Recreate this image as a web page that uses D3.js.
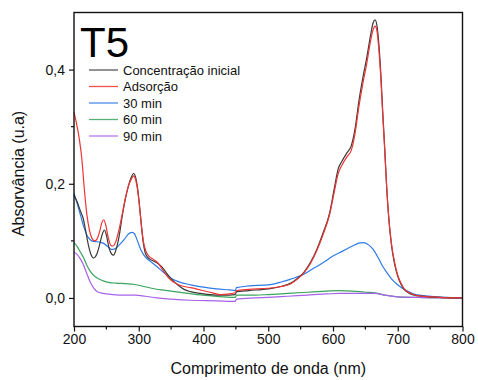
<!DOCTYPE html>
<html>
<head>
<meta charset="utf-8">
<script src="https://cdn.jsdelivr.net/npm/d3@7"></script>
<style>
  html, body { margin: 0; padding: 0; background: #fff; }
  svg { display: block; font-family: "Liberation Sans", Arial, sans-serif; }
</style>
</head>
<body>
<svg id="chart" width="478" height="380"></svg>
<script>
// UV-Vis absorbance spectra, sample T5: [wavelength (nm), absorbance]
const inicial = [
  [200,0.180],[205,0.168],[210,0.152],[214,0.140],[218,0.118],[222,0.094],[226,0.077],[230,0.070],[235,0.076],
  [240,0.095],[244,0.113],[247,0.119],[250,0.110],[254,0.088],[258,0.077],[261,0.075],[265,0.085],[270,0.110],
  [274,0.140],[279,0.172],[284,0.196],[288,0.210],[292,0.218],[295,0.212],[298,0.194],[301,0.164],[304,0.128],
  [307,0.097],[311,0.076],[316,0.069],[322,0.065],[330,0.060],[336,0.054],[342,0.045],[350,0.034],[360,0.023],
  [370,0.015],[380,0.011],[395,0.008],[410,0.006],[430,0.005],[449,0.006],[451,0.011],[470,0.013],[500,0.016],
  [520,0.020],[535,0.026],[545,0.034],[555,0.045],[565,0.062],[575,0.085],[585,0.115],[595,0.150],[602,0.192],
  [608,0.226],[614,0.240],[622,0.255],[628,0.266],[634,0.296],[640,0.345],[646,0.385],[652,0.420],[658,0.460],
  [662,0.482],[665,0.487],[668,0.476],[671,0.442],[674,0.390],[677,0.322],[680,0.260],[683,0.192],[686,0.142],
  [690,0.095],[695,0.060],[700,0.038],[705,0.024],[710,0.015],[718,0.008],[730,0.004],[750,0.002],[800,0.000]
];
const adsorcao = [
  [200,0.325],[204,0.305],[208,0.280],[212,0.245],[216,0.190],[220,0.145],[224,0.118],[228,0.104],[232,0.100],
  [236,0.104],[240,0.118],[243,0.132],[246,0.137],[249,0.128],[253,0.105],[257,0.092],[260,0.091],[265,0.100],
  [270,0.122],[275,0.150],[280,0.178],[284,0.196],[288,0.207],[292,0.214],[295,0.208],[298,0.191],[301,0.162],
  [304,0.128],[307,0.100],[311,0.082],[316,0.073],[322,0.068],[330,0.061],[336,0.051],[342,0.041],[350,0.031],
  [360,0.024],[370,0.020],[380,0.018],[395,0.014],[410,0.010],[426,0.006],[440,0.007],[449,0.009],[451,0.013],
  [470,0.015],[500,0.017],[520,0.020],[535,0.025],[545,0.033],[555,0.044],[565,0.060],[575,0.083],[585,0.112],
  [595,0.147],[602,0.186],[608,0.218],[614,0.233],[622,0.248],[628,0.258],[634,0.288],[640,0.335],[646,0.375],
  [652,0.410],[658,0.450],[662,0.470],[665,0.476],[668,0.467],[671,0.432],[674,0.382],[677,0.317],[680,0.256],
  [683,0.192],[686,0.142],[690,0.098],[695,0.063],[700,0.040],[705,0.026],[710,0.016],[718,0.009],[730,0.004],
  [750,0.002],[800,0.000]
];
const min30 = [
  [200,0.183],[205,0.165],[210,0.145],[215,0.125],[220,0.110],[225,0.102],[230,0.099],[238,0.098],[245,0.096],
  [252,0.090],[258,0.085],[263,0.086],[270,0.093],[278,0.103],[284,0.112],[289,0.115],[293,0.113],[298,0.100],
  [303,0.085],[310,0.072],[318,0.064],[328,0.055],[338,0.045],[348,0.036],[360,0.029],[380,0.023],[400,0.019],
  [420,0.016],[440,0.014],[449,0.013],[451,0.018],[470,0.021],[500,0.023],[520,0.028],[535,0.033],[552,0.040],
  [570,0.052],[585,0.062],[598,0.072],[615,0.082],[630,0.091],[640,0.096],[647,0.097],[655,0.093],[662,0.085],
  [670,0.070],[677,0.055],[684,0.043],[690,0.034],[698,0.025],[706,0.018],[715,0.012],[725,0.007],[740,0.004],
  [760,0.002],[800,0.000]
];
const min60 = [
  [200,0.097],[205,0.090],[210,0.080],[215,0.070],[220,0.057],[225,0.047],[230,0.040],[237,0.034],[245,0.030],
  [255,0.027],[265,0.026],[280,0.025],[292,0.024],[305,0.021],[320,0.017],[335,0.014],[350,0.012],[370,0.009],
  [390,0.006],[410,0.004],[430,0.002],[449,0.001],[451,0.005],[480,0.005],[500,0.006],[530,0.008],[560,0.010],
  [590,0.012],[610,0.013],[630,0.012],[650,0.010],[665,0.009],[680,0.005],[700,0.002],[730,0.001],[800,0.000]
];
const min90 = [
  [200,0.080],[205,0.076],[210,0.068],[215,0.057],[220,0.042],[225,0.028],[230,0.018],[236,0.011],[245,0.008],
  [260,0.006],[280,0.005],[295,0.005],[310,0.003],[328,0.000],[350,-0.002],[380,-0.004],[420,-0.005],[449,-0.006],
  [451,-0.002],[480,0.000],[500,0.001],[530,0.003],[560,0.005],[590,0.007],[610,0.008],[640,0.008],[665,0.008],
  [680,0.005],[700,0.002],[730,0.001],[800,0.000]
];

const seriesNames = ["Concentração inicial", "Adsorção", "30 min", "60 min", "90 min"];
const seriesColors = ["#3a3a3a", "#ee3434", "#2d7be6", "#3aa35c", "#a862ea"];
const seriesData = [inicial, adsorcao, min30, min60, min90];

const xTicks = [200, 300, 400, 500, 600, 700, 800];
const yTicks = [0.0, 0.2, 0.4];
const yTickLabels = ["0,0", "0,2", "0,4"];
const sampleLabel = "T5";
const xTitle = "Comprimento de onda (nm)";
const yTitle = "Absorvância (u.a)";

const svg = d3.select("#chart");
const L = 74, R = 462.5, T = 12.5, B = 326.5;

const x = d3.scaleLinear().domain([200, 800]).range([L, R]);
const y = d3.scaleLinear().domain([-0.05, 0.5]).range([B, T]);

// spectra (drawn first so the frame sits on top)
const line = d3.line()
  .x(d => x(d[0]))
  .y(d => y(d[1]))
  .curve(d3.curveMonotoneX);

const plot = svg.append("g");
// draw the red over the black curve but keep the weak series below
const order = [3, 4, 2, 0, 1];
order.forEach(i => {
  plot.append("path")
    .datum(seriesData[i])
    .attr("d", line)
    .attr("fill", "none")
    .attr("stroke", seriesColors[i])
    .attr("stroke-width", 1.2)
    .attr("stroke-linejoin", "round");
});

// frame
svg.append("rect")
  .attr("x", L).attr("y", T)
  .attr("width", R - L).attr("height", B - T)
  .attr("fill", "none")
  .attr("stroke", "#111")
  .attr("stroke-width", 1.4);

// x axis: major ticks every 100 nm, minor every 50 nm
const xMinor = d3.range(250, 800, 100);
const xAxis = d3.axisBottom(x)
  .tickValues(xTicks)
  .tickSize(5)
  .tickPadding(3)
  .tickFormat(d3.format("d"));
const gx = svg.append("g").attr("transform", `translate(0,${B})`).call(xAxis);
gx.select(".domain").remove();
gx.selectAll(".tick line").attr("stroke", "#111").attr("stroke-width", 1.2);
gx.selectAll(".tick text").attr("font-size", 14).attr("fill", "#111")
  .attr("font-family", "'Liberation Sans', Arial, sans-serif");
gx.selectAll(".minor").data(xMinor).enter().append("line")
  .attr("x1", d => x(d)).attr("x2", d => x(d))
  .attr("y1", 0).attr("y2", 3)
  .attr("stroke", "#111").attr("stroke-width", 1.2);

// y axis: major ticks every 0.2, minor every 0.1
const yMinor = [0.1, 0.3];
const yAxis = d3.axisLeft(y)
  .tickValues(yTicks)
  .tickSize(5)
  .tickPadding(4)
  .tickFormat((d, i) => yTickLabels[i]);
const gy = svg.append("g").attr("transform", `translate(${L},0)`).call(yAxis);
gy.select(".domain").remove();
gy.selectAll(".tick line").attr("stroke", "#111").attr("stroke-width", 1.2);
gy.selectAll(".tick text").attr("font-size", 14).attr("fill", "#111")
  .attr("font-family", "'Liberation Sans', Arial, sans-serif");
gy.selectAll(".minor").data(yMinor).enter().append("line")
  .attr("x1", 0).attr("x2", -3)
  .attr("y1", d => y(d)).attr("y2", d => y(d))
  .attr("stroke", "#111").attr("stroke-width", 1.2);

// axis titles
svg.append("text")
  .attr("x", (L + R) / 2).attr("y", 374)
  .attr("text-anchor", "middle")
  .attr("font-size", 16).attr("fill", "#111")
  .text(xTitle);
svg.append("text")
  .attr("transform", `translate(24,${(T + B) / 2 + 4}) rotate(-90)`)
  .attr("text-anchor", "middle")
  .attr("font-size", 16).attr("fill", "#111")
  .text(yTitle);

// sample label
svg.append("text")
  .attr("x", 80).attr("y", 57)
  .attr("font-size", 42).attr("fill", "#000")
  .text(sampleLabel);

// legend
const leg = svg.append("g");
seriesNames.forEach((name, i) => {
  const ly = 70 + i * 16.5;
  leg.append("line")
    .attr("x1", 89).attr("x2", 118)
    .attr("y1", ly).attr("y2", ly)
    .attr("stroke", seriesColors[i]).attr("stroke-width", 1.3)
    .attr("opacity", 0.85);
  leg.append("text")
    .attr("x", 123).attr("y", ly)
    .attr("dy", "0.35em")
    .attr("font-size", 13).attr("fill", "#111")
    .text(name);
});
</script>
</body>
</html>
